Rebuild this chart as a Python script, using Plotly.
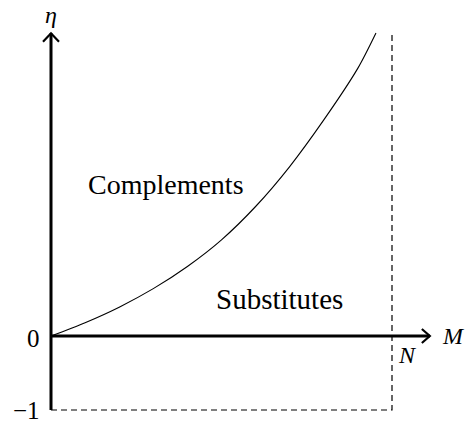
import plotly.graph_objects as go

# ---- data ----
M_vals = [0, 0.1, 0.2, 0.3, 0.4, 0.5, 0.6, 0.7, 0.8, 0.9, 0.953]
eta_vals = [0, 0.18, 0.39, 0.64, 0.94, 1.30, 1.75, 2.29, 2.92, 3.62, 4.095]
N_val = 1.0
eta_min = -1.0
eta_top = 4.095
x_tip = 1.111
y_tip = 4.09
tick_text = ["0", "\u22121"]

W, H = 465, 423
# pixel mapping: px = 51 + 341*M ; py = 336 - 74*eta
x0p, sx = 51, 341
y0p, sy = 336, 74
x_range = [-x0p / sx, (W - x0p) / sx]
y_range = [(y0p - H) / sy, y0p / sy]

def dx(px):
    return px / sx

def dy(px):
    return px / sy

fig = go.Figure()

# curve
fig.add_trace(go.Scatter(x=M_vals, y=eta_vals, mode="lines",
                         line=dict(color="black", width=1.1, shape="spline", smoothing=0.8),
                         hoverinfo="skip"))
# dashed box lines
fig.add_trace(go.Scatter(x=[0, N_val, N_val], y=[eta_min, eta_min, eta_top], mode="lines",
                         line=dict(color="black", width=1.2, dash="6px,4px"), hoverinfo="skip"))
# axes
fig.add_trace(go.Scatter(x=[0, 0], y=[eta_min, y_tip], mode="lines",
                         line=dict(color="black", width=3), hoverinfo="skip"))
fig.add_trace(go.Scatter(x=[0, x_tip], y=[0, 0], mode="lines",
                         line=dict(color="black", width=3), hoverinfo="skip"))
# arrowheads (open chevrons)
fig.add_trace(go.Scatter(x=[-dx(8), 0, dx(8)], y=[y_tip - dy(8.5), y_tip, y_tip - dy(8.5)],
                         mode="lines", line=dict(color="black", width=2.2), hoverinfo="skip"))
fig.add_trace(go.Scatter(x=[x_tip - dx(8), x_tip, x_tip - dx(8)], y=[dy(7), 0, -dy(7)],
                         mode="lines", line=dict(color="black", width=2.2), hoverinfo="skip"))

serif = "Liberation Serif, Times New Roman, serif"

def px2x(px):
    return (px - x0p) / sx

def py2y(py):
    return (y0p - py) / sy

def label(text, px, py, size=22, italic=False, xanchor="center"):
    if italic:
        text = "<i>" + text + "</i>"
    fig.add_annotation(x=px2x(px), y=py2y(py), text=text, showarrow=False,
                       xanchor=xanchor, yanchor="middle",
                       font=dict(family=serif, size=size, color="black"))

label("Complements", 166, 184, size=28)
label("Substitutes", 279, 299, size=29)
label(tick_text[0], 42, 338, size=25, xanchor="right")
label(tick_text[1], 42, 410, size=25, xanchor="right")
label("\u03b7", 51, 15, size=24, italic=True)
label("M", 453, 336, size=24, italic=True)
label("N", 407, 355, size=24, italic=True)

fig.update_layout(
    width=W, height=H,
    margin=dict(l=0, r=0, t=0, b=0),
    paper_bgcolor="white", plot_bgcolor="white",
    showlegend=False,
    xaxis=dict(range=x_range, visible=False, fixedrange=True),
    yaxis=dict(range=y_range, visible=False, fixedrange=True),
)

fig.write_html("out.html", config={"displayModeBar": False},
               post_script="document.body.style.margin='0';document.body.style.padding='0';")
